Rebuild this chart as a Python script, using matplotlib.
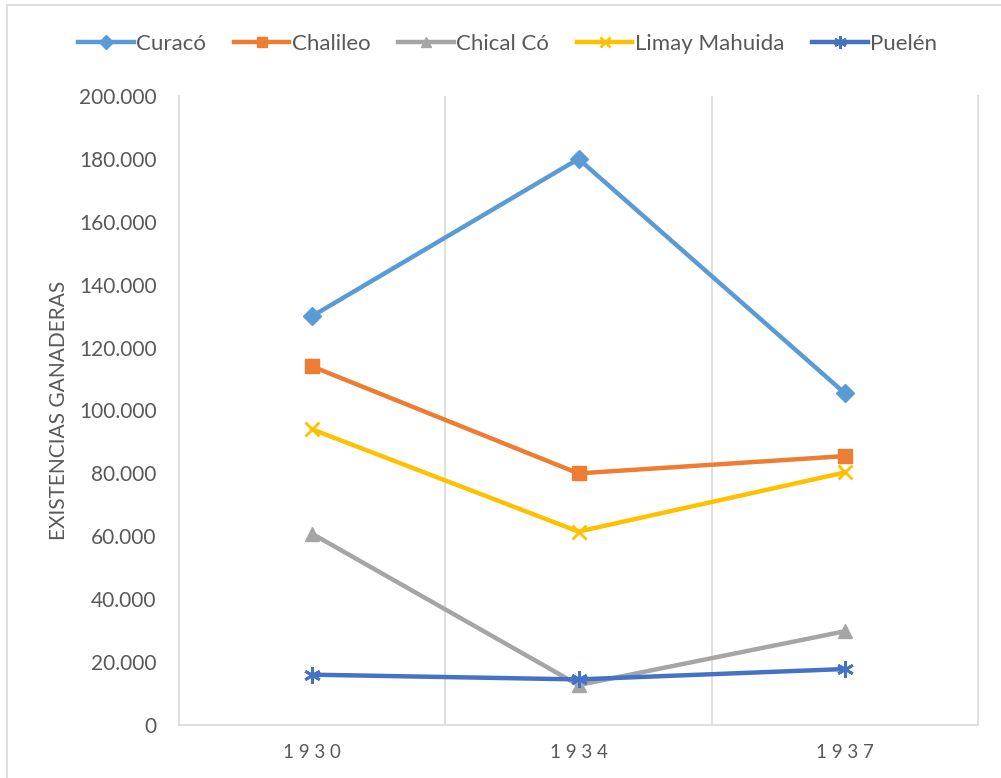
import matplotlib.pyplot as plt
from matplotlib.ticker import FuncFormatter
from matplotlib.patches import Rectangle

plt.rcParams['font.family'] = ['Lato', 'DejaVu Sans']

years = ['1930', '1934', '1937']
curaco = [130000, 180000, 105500]
chalileo = [114000, 80000, 85500]
chical_co = [60800, 12700, 29800]
limay_mahuida = [94000, 61500, 80300]
puelen = [16000, 14500, 17800]

series = [
    ('Curacó', curaco, '#5B9BD5', 'D', 9),
    ('Chalileo', chalileo, '#ED7D31', 's', 10),
    ('Chical Có', chical_co, '#A5A5A5', '^', 10),
    ('Limay Mahuida', limay_mahuida, '#FFC000', 'x', 10),
    ('Puelén', puelen, '#4472C4', (6, 2, 0), 12),
]

fig = plt.figure(figsize=(10.01, 7.78), dpi=100)
fig.patches.append(Rectangle((7 / 1001, -0.01), 1.02, 1 - 5 / 778 + 0.01,
                             transform=fig.transFigure, fill=False,
                             edgecolor='#D9D9D9', linewidth=1.2))
ax = fig.add_axes([179 / 1001, 53 / 778, 799 / 1001, 629 / 778])

x = [1, 2, 3]
for name, vals, color, marker, ms in series:
    mew = 2 if marker in ('x', (6, 2, 0)) else 1
    ax.plot(x, vals, color=color, linewidth=3.2, marker=marker, markersize=ms,
            markeredgewidth=mew, label=name)

ax.set_xlim(0.5, 3.5)
ax.set_ylim(0, 200000)
ax.set_yticks(range(0, 200001, 20000))
ax.yaxis.set_major_formatter(FuncFormatter(lambda v, p: f'{int(v):,}'.replace(',', '.')))
ax.set_xticks(x)
ax.set_xticklabels([' '.join(y) for y in years])
for gx in (1.5, 2.5):
    ax.axvline(gx, color='#D9D9D9', linewidth=1.2, zorder=0)

ax.spines['top'].set_visible(False)
for s in ('left', 'right', 'bottom'):
    ax.spines[s].set_color('#D9D9D9')
    ax.spines[s].set_linewidth(1.2)
ax.tick_params(length=0, labelcolor='#595959')
ax.tick_params(axis='y', labelsize=15, pad=16)
ax.tick_params(axis='x', labelsize=13.5, pad=14)
ax.set_ylabel('EXISTENCIAS GANADERAS', fontsize=15, color='#595959', labelpad=7)

fig.legend(loc='center', bbox_to_anchor=(0.507, 0.944), ncol=5, frameon=False,
           fontsize=16, handlelength=2.5, columnspacing=1.26, handletextpad=0.1,
           labelcolor='#595959', markerscale=0.75)

fig.savefig('out.png', dpi=100)
